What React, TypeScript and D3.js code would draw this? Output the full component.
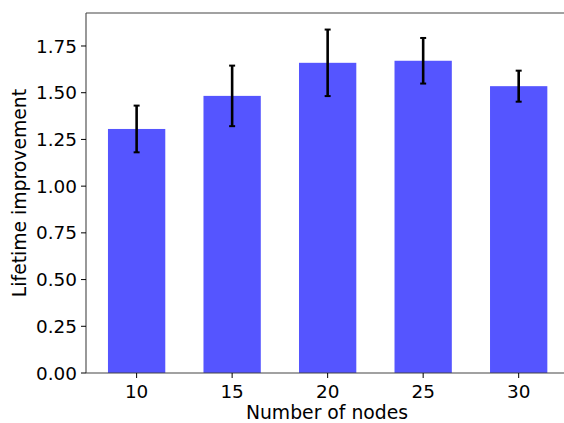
import React from "react";
import * as d3 from "d3";

const categories = [10, 15, 20, 25, 30];
const values = [1.306, 1.483, 1.66, 1.671, 1.535];
const errors = [0.125, 0.162, 0.178, 0.122, 0.083];
const yTicks = [0, 0.25, 0.5, 0.75, 1.0, 1.25, 1.5, 1.75];
const xTicks = [10, 15, 20, 25, 30];

export default function App() {
  const W = 564, H = 423;
  const left = 86, right = 569.3, top = 13, bottom = 373;
  const x = d3.scaleLinear().domain([7.35, 32.65]).range([left, right]);
  const y = d3.scaleLinear().domain([0, 1.9266]).range([bottom, top]);
  const barW = 3;
  const font = "DejaVu Sans, sans-serif";
  const fs = 18.4;
  const lfs = 18.8;
  return (
    <svg width={W} height={H} style={{ position: "absolute", left: 0, top: 0 }} fontFamily={font}>
      <rect width={W} height={H} fill="#fff" />
      {categories.map((c, i) => (
        <rect key={c} x={x(c - barW / 2)} y={y(values[i])} width={x(c + barW / 2) - x(c - barW / 2)}
          height={y(0) - y(values[i])} fill="#5555ff" />
      ))}
      {categories.map((c, i) => {
        const cx = x(c);
        const y1 = y(values[i] + errors[i]);
        const y2 = y(values[i] - errors[i]);
        return (
          <g key={c} stroke="#000">
            <line x1={cx} x2={cx} y1={y1} y2={y2} strokeWidth={2.6} />
            <line x1={cx - 3} x2={cx + 3} y1={y1} y2={y1} strokeWidth={2} />
            <line x1={cx - 3} x2={cx + 3} y1={y2} y2={y2} strokeWidth={2} />
          </g>
        );
      })}
      <g stroke="#444" strokeWidth={1.1} fill="none">
        <line x1={left} x2={left} y1={top} y2={bottom} />
        <line x1={left} x2={right} y1={bottom} y2={bottom} />
        <line x1={left} x2={right} y1={top} y2={top} />
        <line x1={right} x2={right} y1={top} y2={bottom} />
      </g>
      {yTicks.map((t) => (
        <g key={t}>
          <line x1={left - 5} x2={left} y1={y(t)} y2={y(t)} stroke="#000" strokeWidth={1} />
          <text x={left - 9} y={y(t)} dy="0.36em" textAnchor="end" fontSize={fs} fill="#000">
            {t.toFixed(2)}
          </text>
        </g>
      ))}
      {xTicks.map((t) => (
        <g key={t}>
          <line x1={x(t)} x2={x(t)} y1={bottom} y2={bottom + 5} stroke="#000" strokeWidth={1} />
          <text x={x(t)} y={bottom + 24.5} textAnchor="middle" fontSize={fs} fill="#000">
            {t}
          </text>
        </g>
      ))}
      <text x={327} y={418.5} textAnchor="middle" fontSize={lfs} fill="#000">
        Number of nodes
      </text>
      <text transform={`translate(25.5, 193) rotate(-90)`} textAnchor="middle" fontSize={lfs} fill="#000">
        Lifetime improvement
      </text>
    </svg>
  );
}
